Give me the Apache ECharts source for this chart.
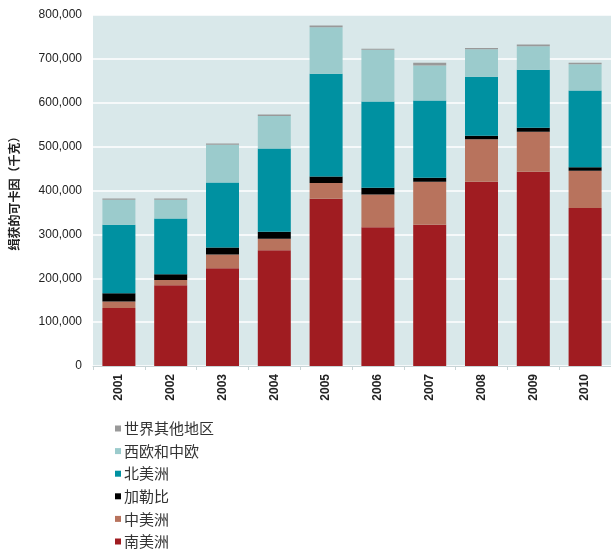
<!DOCTYPE html>
<html>
<head>
<meta charset="utf-8">
<script src="https://cdn.jsdelivr.net/npm/echarts@6/dist/echarts.min.js"></script>
<style>
  html, body { margin: 0; padding: 0; background: #ffffff; }
  #chart { width: 611px; height: 549px; }
</style>
</head>
<body>
<div id="chart"></div>
<script>
// Cocaine seizures by region, 2001–2010 (kilograms)
const years = ['2001', '2002', '2003', '2004', '2005', '2006', '2007', '2008', '2009', '2010'];

const southAmerica   = [132000, 184000, 223000, 264000, 381000, 316000, 322000, 420000, 443000, 360000];
const centralAmerica = [15000, 12000, 31000, 26000, 36000, 75000, 98000, 97000, 91000, 85000];
const caribbean      = [19000, 13000, 16000, 16000, 15000, 15000, 9000, 8000, 9000, 8000];
const northAmerica   = [156000, 127000, 148000, 190000, 234000, 197000, 176000, 134000, 132000, 175000];
const westCentralEurope = [57000, 43000, 86000, 74000, 106000, 118000, 80000, 63000, 54000, 60000];
const restOfWorld    = [3000, 3000, 3000, 3000, 4000, 2000, 6000, 3000, 4000, 3000];

const yTicks = [0, 100000, 200000, 300000, 400000, 500000, 600000, 700000, 800000];

const seriesDefs = [
  { name: '南美洲', data: southAmerica, color: '#a01c21' },
  { name: '中美洲', data: centralAmerica, color: '#b8735d' },
  { name: '加勒比', data: caribbean, color: '#000000' },
  { name: '北美洲', data: northAmerica, color: '#0091a1' },
  { name: '西欧和中欧', data: westCentralEurope, color: '#9bcbcc' },
  { name: '世界其他地区', data: restOfWorld, color: '#999999' }
];

const chart = echarts.init(document.getElementById('chart'), null, { renderer: 'canvas' });

chart.setOption({
  animation: false,
  backgroundColor: '#ffffff',
  grid: {
    left: 91,
    top: 15,
    width: 530,
    height: 351,
    show: true,
    backgroundColor: '#d9e8ea',
    borderWidth: 0
  },
  legend: {
    orient: 'vertical',
    left: 115,
    top: 421,
    height: 140,
    padding: 0,
    icon: 'rect',
    itemWidth: 6,
    itemHeight: 6,
    itemGap: 7.6,
    data: seriesDefs.map(s => s.name).reverse(),
    textStyle: {
      fontFamily: '"Noto Sans CJK SC", sans-serif',
      fontSize: 15,
      lineHeight: 14,
      color: '#333333',
      padding: [0, 0, 0, -2]
    }
  },
  xAxis: {
    type: 'category',
    data: years,
    axisLine: { show: true, lineStyle: { color: '#c8d4d6', width: 1 } },
    axisTick: { show: true, length: 4, lineStyle: { color: '#c8d4d6' } },
    axisLabel: {
      rotate: 90,
      margin: 8,
      fontFamily: '"Liberation Sans", Arial, sans-serif',
      fontSize: 12,
      fontWeight: 'bold',
      color: '#222222'
    }
  },
  yAxis: {
    type: 'value',
    min: yTicks[0],
    max: yTicks[yTicks.length - 1],
    interval: 100000,
    name: '缉获的可卡因（千克）',
    nameLocation: 'middle',
    nameRotate: 90,
    nameGap: 73,
    nameTextStyle: {
      fontFamily: '"Noto Sans CJK SC", sans-serif',
      fontSize: 12,
      fontWeight: 'bold',
      color: '#222222'
    },
    axisLine: { show: false },
    axisTick: { show: false },
    splitLine: { show: true, lineStyle: { color: '#ffffff', width: 1.5 } },
    axisLabel: {
      margin: 11,
      fontFamily: '"Liberation Sans", Arial, sans-serif',
      fontSize: 12,
      color: '#222222',
      formatter: v => v.toLocaleString('en-US')
    }
  },
  series: seriesDefs.map(s => ({
    name: s.name,
    type: 'bar',
    stack: 'total',
    data: s.data,
    barWidth: 33,
    itemStyle: { color: s.color },
    emphasis: { disabled: true }
  }))
});
</script>
</body>
</html>
